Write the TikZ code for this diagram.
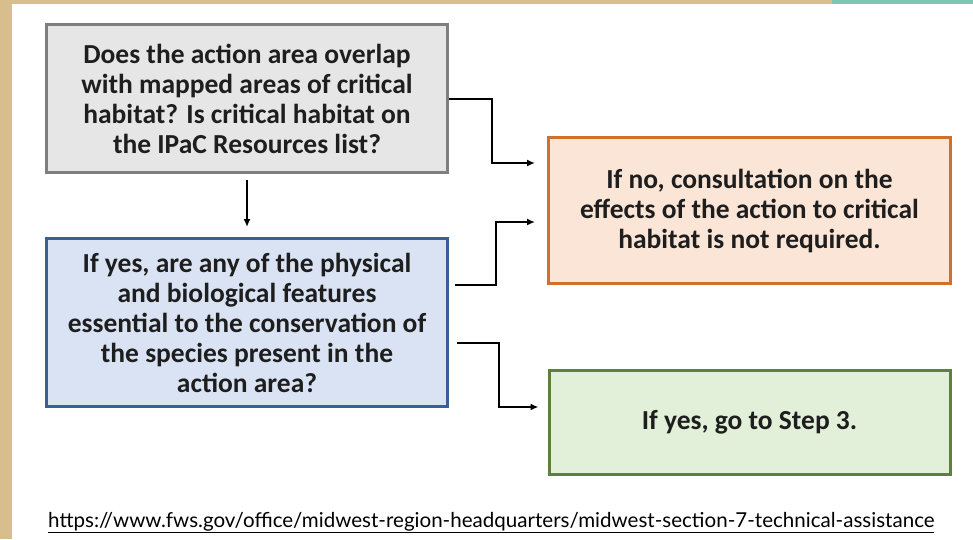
\documentclass[tikz,border=0pt]{standalone}
\usepackage{fontspec}
\setmainfont{Carlito}
\newfontfamily\urlfont{Lato}
\usetikzlibrary{positioning}
\usetikzlibrary{arrows.meta}

\definecolor{paper}{HTML}{D8BE8C}
\definecolor{tealstrip}{HTML}{7CC7B4}
\definecolor{grayfill}{HTML}{E7E6E6}
\definecolor{grayline}{HTML}{7F7F7F}
\definecolor{bluefill}{HTML}{DAE3F3}
\definecolor{blueline}{HTML}{3A5F98}
\definecolor{orangefill}{HTML}{FBE5D6}
\definecolor{orangeline}{HTML}{D0702A}
\definecolor{greenfill}{HTML}{E2F0D9}
\definecolor{greenline}{HTML}{5E7F3E}
\definecolor{inktext}{HTML}{1E1E1E}

\tikzset{
    stepbox/.style={draw, line width=3pt, inner sep=0pt, align=center,
        text=inktext, minimum width=401pt,
        font=\bfseries\fontsize{27.5}{30}\selectfont},
    conn/.style={line width=2pt, -{Latex[length=8pt,width=7pt]}}
}

\begin{document}
\begin{tikzpicture}[x=1pt, y=-1pt]

% page and frame
\fill [paper] (0,0) rectangle (973,539);
\fill [tealstrip] (832,0) rectangle (973,4);
\fill [white] (12,4) rectangle (973,539);
\useasboundingbox (0,0) rectangle (973,539);

\node[stepbox,
    fill = grayfill,
    draw = grayline,
    minimum height = 148pt] (overlap) at (247,98.5)
    {Does the action area overlap\\with mapped areas of critical\\habitat? Is critical habitat on\\the IPaC Resources list?};

\node[stepbox,
    fill = bluefill,
    draw = blueline,
    minimum height = 168pt] (features) at (247,322.5)
    {If yes, are any of the physical\\and biological features\\essential to the conservation of\\the species present in the\\action area?};

\node[stepbox,
    fill = orangefill,
    draw = orangeline,
    minimum width = 402pt,
    minimum height = 146pt] (notreq) at (749.5,210.5)
    {If no, consultation on the\\effects of the action to critical\\habitat is not required.};

\node[stepbox,
    fill = greenfill,
    draw = greenline,
    minimum height = 104pt] (stepthree) at (749.5,422)
    {If yes, go to Step 3.};

\draw [conn, shorten <=6pt, shorten >=10pt] (overlap.south) -- (features.north);
\draw [conn, shorten >=12pt] (overlap.east) -- ++(43,0) |- ([yshift=47.5pt]notreq.west);
\draw [conn, shorten <=6pt, shorten >=12pt] ([yshift=37.5pt]features.east) -- ++(47,0) |- ([yshift=-11.5pt]notreq.west);
\draw [conn, shorten <=8pt, shorten >=9pt] ([yshift=-20.5pt]features.east) -- ++(50,0) |- ([yshift=15pt]stepthree.west);

\node[anchor=base west, inner sep=0pt, text=black,
    font=\urlfont\fontsize{20.55}{24}\selectfont] (source) at (48,527)
    {\underline{https://www.fws.gov/office/midwest-region-headquarters/midwest-section-7-technical-assistance}};

\end{tikzpicture}
\end{document}
